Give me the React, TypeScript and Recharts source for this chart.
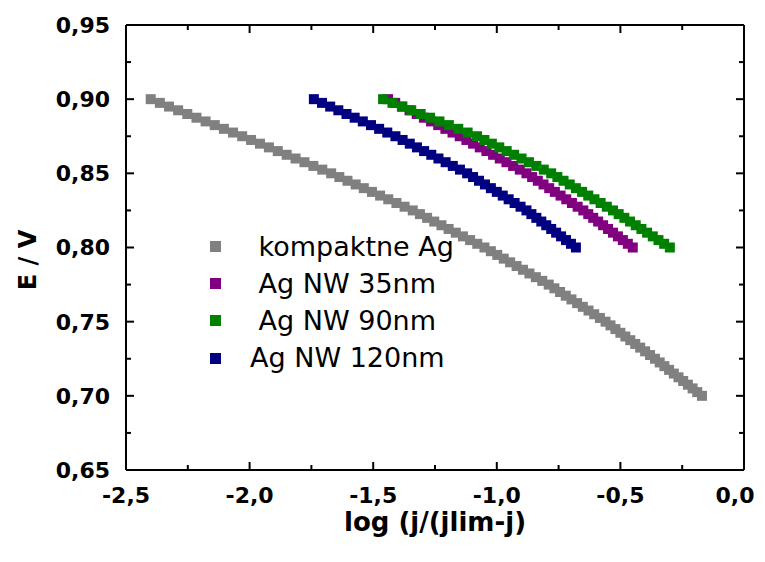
import { ScatterChart, Scatter, XAxis, YAxis, Legend } from 'recharts';

// potential steps (V), shared by all curves
const ePotential = [
  0.9, 0.8975, 0.895, 0.8925, 0.89, 0.8875, 0.885, 0.8825, 0.88, 0.8775,
  0.875, 0.8725, 0.87, 0.8675, 0.865, 0.8625, 0.86, 0.8575, 0.855, 0.8525,
  0.85, 0.8475, 0.845, 0.8425, 0.84, 0.8375, 0.835, 0.8325, 0.83, 0.8275,
  0.825, 0.8225, 0.82, 0.8175, 0.815, 0.8125, 0.81, 0.8075, 0.805, 0.8025,
  0.8, 0.7975, 0.795, 0.7925, 0.79, 0.7875, 0.785, 0.7825, 0.78, 0.7775,
  0.775, 0.7725, 0.77, 0.7675, 0.765, 0.7625, 0.76, 0.7575, 0.755, 0.7525,
  0.75, 0.7475, 0.745, 0.7425, 0.74, 0.7375, 0.735, 0.7325, 0.73, 0.7275,
  0.725, 0.7225, 0.72, 0.7175, 0.715, 0.7125, 0.71, 0.7075, 0.705, 0.7025,
  0.7,
];

const kompaktneX = [
  -2.4, -2.363, -2.326, -2.289, -2.252, -2.215, -2.178, -2.141, -2.104, -2.067, -2.03,
  -1.994, -1.958, -1.922, -1.886, -1.85, -1.814, -1.778, -1.742, -1.706, -1.67,
  -1.637, -1.604, -1.571, -1.538, -1.505, -1.472, -1.439, -1.406, -1.373, -1.34,
  -1.311, -1.282, -1.253, -1.224, -1.195, -1.166, -1.137, -1.108, -1.079, -1.05,
  -1.024, -0.998, -0.972, -0.946, -0.92, -0.894, -0.868, -0.842, -0.816, -0.79,
  -0.767, -0.744, -0.721, -0.698, -0.675, -0.652, -0.629, -0.606, -0.583, -0.56,
  -0.54, -0.52, -0.5, -0.48, -0.46, -0.44, -0.42, -0.4, -0.38, -0.36,
  -0.341, -0.322, -0.303, -0.284, -0.265, -0.246, -0.227, -0.208, -0.189, -0.17,
];

const nw35X = [
  -1.44, -1.411, -1.382, -1.353, -1.324, -1.295, -1.266, -1.237, -1.208, -1.179, -1.15,
  -1.123, -1.096, -1.069, -1.042, -1.015, -0.988, -0.961, -0.934, -0.907, -0.88,
  -0.857, -0.834, -0.811, -0.788, -0.765, -0.742, -0.719, -0.696, -0.673, -0.65,
  -0.63, -0.61, -0.59, -0.57, -0.55, -0.53, -0.51, -0.49, -0.47, -0.45,
];

const nw90X = [
  -1.46, -1.422, -1.384, -1.346, -1.308, -1.27, -1.232, -1.194, -1.156, -1.118, -1.08,
  -1.05, -1.02, -0.99, -0.96, -0.93, -0.9, -0.87, -0.84, -0.81, -0.78,
  -0.755, -0.73, -0.705, -0.68, -0.655, -0.63, -0.605, -0.58, -0.555, -0.53,
  -0.507, -0.484, -0.461, -0.438, -0.415, -0.392, -0.369, -0.346, -0.323, -0.3,
];

const nw120X = [
  -1.74, -1.707, -1.674, -1.641, -1.608, -1.575, -1.542, -1.509, -1.476, -1.443, -1.41,
  -1.381, -1.352, -1.323, -1.294, -1.265, -1.236, -1.207, -1.178, -1.149, -1.12,
  -1.096, -1.072, -1.048, -1.024, -1.0, -0.976, -0.952, -0.928, -0.904, -0.88,
  -0.86, -0.84, -0.82, -0.8, -0.78, -0.76, -0.74, -0.72, -0.7, -0.68,
];

const seriesNames = [' kompaktne Ag', ' Ag NW 35nm', ' Ag NW 90nm', 'Ag NW 120nm'];
const seriesColors = ['#808080', '#800080', '#008000', '#000080'];

const xTicks = [-2.5, -2.25, -2, -1.75, -1.5, -1.25, -1, -0.75, -0.5, -0.25, 0];
const yTicks = [0.65, 0.675, 0.7, 0.725, 0.75, 0.775, 0.8, 0.825, 0.85, 0.875, 0.9, 0.925, 0.95];

const FONT = "'DejaVu Sans', sans-serif";
const MAJOR = 8;
const MINOR = 5;
const X_MARGIN = 17;
const Y_MARGIN = 16;
// keep the last bottom label inside the visible page area
const LABEL_RIGHT_LIMIT = 755;

const toPoints = (xs: number[]) => xs.map((x, i) => ({ x, y: ePotential[i] }));
const series = [kompaktneX, nw35X, nw90X, nw120X].map(toPoints);

const fmt = (v: number, d: number) => v.toFixed(d).replace('.', ',');
const isMajor = (v: number, per: number) => Math.abs(v * per - Math.round(v * per)) < 1e-6;

function BottomTick({ x, y, payload }: any) {
  const major = isMajor(payload.value, 2);
  const axisY = y - X_MARGIN;
  const labelX = Math.min(x, LABEL_RIGHT_LIMIT - 20);
  return (
    <g>
      <line x1={x} x2={x} y1={axisY} y2={axisY - (major ? MAJOR : MINOR)} stroke="#000" strokeWidth={2} />
      {major && (
        <text x={labelX} y={y} dy="0.71em" textAnchor="middle" fontFamily={FONT} fontWeight="bold" fontSize={22} fill="#000">
          {fmt(payload.value, 1)}
        </text>
      )}
    </g>
  );
}

function TopTick({ x, y, payload }: any) {
  const major = isMajor(payload.value, 2);
  return <line x1={x} x2={x} y1={y} y2={y + (major ? MAJOR : MINOR)} stroke="#000" strokeWidth={2} />;
}

function LeftTick({ x, y, payload }: any) {
  const major = isMajor(payload.value, 20);
  const axisX = x + Y_MARGIN;
  return (
    <g>
      <line x1={axisX} x2={axisX + (major ? MAJOR : MINOR)} y1={y} y2={y} stroke="#000" strokeWidth={2} />
      {major && (
        <text x={x} y={y} dy="0.36em" textAnchor="end" fontFamily={FONT} fontWeight="bold" fontSize={22} fill="#000">
          {fmt(payload.value, 2)}
        </text>
      )}
    </g>
  );
}

function RightTick({ x, y, payload }: any) {
  const major = isMajor(payload.value, 20);
  return <line x1={x} x2={x - (major ? MAJOR : MINOR)} y1={y} y2={y} stroke="#000" strokeWidth={2} />;
}

const squareShape = (color: string, size: number) => (props: any) => (
  <rect x={props.cx - size / 2} y={props.cy - size / 2} width={size} height={size} fill={color} />
);

function LegendBox() {
  return (
    <div style={{ fontFamily: FONT, fontSize: 27, color: '#000' }}>
      {seriesNames.map((name, i) => (
        <div key={name} style={{ display: 'flex', alignItems: 'center', height: 37.2 }}>
          <span style={{ width: 11, height: 11, background: seriesColors[i], display: 'inline-block' }} />
          <span style={{ marginLeft: 29, whiteSpace: 'pre', lineHeight: '30px' }}>{name}</span>
        </div>
      ))}
    </div>
  );
}

export default function App() {
  // the chart spans the full page width; the body margin is taken back on the left
  return (
    <div style={{ width: 765, height: 546, marginLeft: -8 }}>
      <ScatterChart width={765} height={546} margin={{ top: 16, right: 20, left: 8, bottom: 0 }}>
        <XAxis
          xAxisId={0}
          type="number"
          dataKey="x"
          domain={[-2.5, 0]}
          ticks={xTicks}
          interval={0}
          height={84}
          tickSize={0}
          tickMargin={X_MARGIN}
          tickLine={false}
          tick={<BottomTick />}
          axisLine={{ stroke: '#000', strokeWidth: 2 }}
          label={() => (
            <text x={435} y={523} textAnchor="middle" fontFamily={FONT} fontWeight="bold" fontSize={26} fill="#000">
              log (j/(jlim-j)
            </text>
          )}
        />
        <XAxis
          xAxisId="top"
          orientation="top"
          type="number"
          dataKey="x"
          domain={[-2.5, 0]}
          allowDataOverflow
          ticks={xTicks}
          interval={0}
          height={1}
          tickSize={0}
          tickMargin={0}
          tickLine={false}
          tick={<TopTick />}
          axisLine={{ stroke: '#000', strokeWidth: 2 }}
        />
        <YAxis
          yAxisId={0}
          type="number"
          dataKey="y"
          domain={[0.65, 0.95]}
          ticks={yTicks}
          interval={0}
          width={118}
          tickSize={0}
          tickMargin={Y_MARGIN}
          tickLine={false}
          tick={<LeftTick />}
          axisLine={{ stroke: '#000', strokeWidth: 2 }}
          label={() => (
            <text
              x={36}
              y={252}
              transform="rotate(-90 36 252)"
              textAnchor="middle"
              fontFamily={FONT}
              fontWeight="bold"
              fontSize={24}
              fill="#000"
            >
              E / V
            </text>
          )}
        />
        <YAxis
          yAxisId="right"
          orientation="right"
          type="number"
          dataKey="y"
          domain={[0.65, 0.95]}
          allowDataOverflow
          ticks={yTicks}
          interval={0}
          width={1}
          tickSize={0}
          tickMargin={0}
          tickLine={false}
          tick={<RightTick />}
          axisLine={{ stroke: '#000', strokeWidth: 2 }}
        />
        <Legend
          content={<LegendBox />}
          layout="vertical"
          align="center"
          verticalAlign="middle"
          wrapperStyle={{ position: 'absolute', left: 210, top: 220, width: 'auto', height: 'auto' }}
        />
        {series.map((data, i) => (
          <Scatter
            key={seriesNames[i]}
            name={seriesNames[i]}
            data={data}
            xAxisId={0}
            yAxisId={0}
            fill={seriesColors[i]}
            shape={squareShape(seriesColors[i], 10)}
            isAnimationActive={false}
          />
        ))}
        {/* invisible copy that ties the mirrored top/right frame axes to data */}
        <Scatter
          name="frame"
          data={series[0]}
          xAxisId="top"
          yAxisId="right"
          shape={() => <g />}
          legendType="none"
          isAnimationActive={false}
        />
      </ScatterChart>
    </div>
  );
}
